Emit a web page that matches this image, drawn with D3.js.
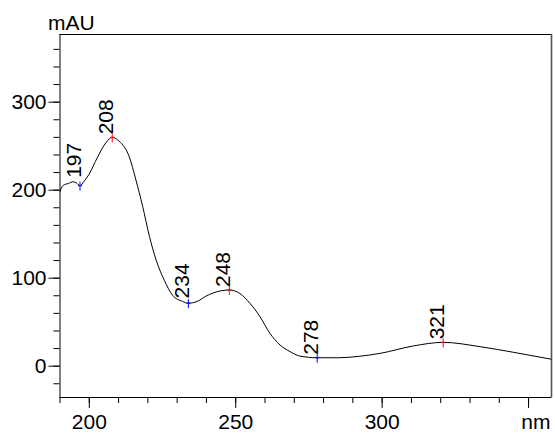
<!DOCTYPE html>
<html>
<head>
<meta charset="UTF-8">
<script src="https://d3js.org/d3.v7.min.js"></script>
<style>
  body { margin: 0; background: #fff; }
  svg { display: block; font-family: "Liberation Sans", Arial, sans-serif; }
</style>
</head>
<body>
<svg width="555" height="435"></svg>
<script>
// spectrum (nm, mAU)
const wavelengths = [190, 191.3, 193, 194.7, 195.8, 197, 198.5, 200, 203, 206, 208, 210.4, 213.8, 216.1, 218.4, 220.7, 223, 225.8, 228.6, 232, 234, 237, 240, 245, 248, 251.6, 255, 258.4, 261.8, 265.3, 268.7, 272, 278, 285, 292, 299.5, 310.8, 321, 333.6, 345, 358];
const absorbance  = [197, 205, 207, 209, 207.5, 204.5, 210, 217, 237, 254, 259.5, 255, 237.5, 211, 181, 147, 120, 97, 80, 73, 71, 73, 79, 85, 86, 82, 71, 56, 37, 23.5, 16, 11, 9, 9, 10.5, 14, 22.4, 26.5, 21.6, 15.2, 7.3];

// labelled extrema
const peakNm   = [197, 208, 234, 248, 278, 321];
const peakMAU  = [204.5, 259.5, 71, 86, 9, 26.5];
const peakKind = ["min", "max", "min", "max", "min", "max"];

const xMajor = [200, 250, 300, 350];
const yMajor = [0, 100, 200, 300];

const svg = d3.select("svg");
const pL = 59.5, pR = 551.5, pT = 34, pB = 397;

const x = d3.scaleLinear().domain([190, 358]).range([pL, pR]);
const y = d3.scaleLinear().domain([-35.6, 376.9]).range([pB, pT]);

// frame
svg.append("line").attr("x1", pL).attr("x2", pR).attr("y1", pT + 0.5).attr("y2", pT + 0.5)
  .attr("stroke", "#000");
svg.append("line").attr("x1", pR).attr("x2", pR).attr("y1", pT).attr("y2", pB)
  .attr("stroke", "#555").attr("stroke-width", 1.6);

// minor ticks
svg.append("g").attr("transform", `translate(0,${pB})`)
  .call(d3.axisBottom(x).tickValues(d3.range(190, 351, 10)).tickSize(6).tickFormat(""))
  .call(g => g.select(".domain").remove());
svg.append("g").attr("transform", `translate(${pL},0)`)
  .call(d3.axisLeft(y).tickValues(d3.range(-20, 361, 20)).tickSize(6).tickFormat(""))
  .call(g => g.select(".domain").remove());

// major axes
const xAxis = svg.append("g").attr("transform", `translate(0,${pB})`)
  .call(d3.axisBottom(x).tickValues(xMajor).tickSize(11).tickPadding(6)
    .tickFormat(d => d === 350 ? "" : d));
xAxis.select(".domain").attr("d", `M${pL},0.5H${pR}`);

const yAxis = svg.append("g").attr("transform", `translate(${pL},0)`)
  .call(d3.axisLeft(y).tickValues(yMajor).tickSize(11).tickPadding(2));
yAxis.select(".domain").attr("d", `M0.5,${pT}V${pB}`);

svg.selectAll(".tick text").attr("font-size", 21).attr("font-family", "Liberation Sans, Arial, sans-serif")
  .attr("fill", "#000");
svg.selectAll(".tick line").attr("stroke", "#000");

svg.append("text").attr("x", pR - 1).attr("y", 429).attr("text-anchor", "end")
  .attr("font-size", 21).text("nm");
svg.append("text").attr("x", 48).attr("y", 30).attr("font-size", 21).text("mAU");

// spectrum
svg.append("clipPath").attr("id", "plot").append("rect")
  .attr("x", pL).attr("y", pT).attr("width", pR - pL).attr("height", pB - pT);

const pts = wavelengths.map((w, i) => [w, absorbance[i]]);
svg.append("path")
  .datum(pts)
  .attr("clip-path", "url(#plot)")
  .attr("fill", "none")
  .attr("stroke", "#000")
  .attr("stroke-width", 1)
  .attr("d", d3.line().x(d => x(d[0])).y(d => y(d[1])).curve(d3.curveMonotoneX));

// markers and labels
peakNm.forEach((nm, i) => {
  const px = x(nm), py = y(peakMAU[i]);
  const col = peakKind[i] === "max" ? "#ff0000" : "#0000ff";
  svg.append("line").attr("x1", px).attr("x2", px).attr("y1", py - 4).attr("y2", py + 5)
    .attr("stroke", col);
  svg.append("line").attr("x1", px - 2).attr("x2", px + 2).attr("y1", py).attr("y2", py)
    .attr("stroke", col);
  // keep label clear of the curve nearby
  const near = pts.filter(d => Math.abs(d[0] - nm) <= 2.5).map(d => d[1]);
  const ly = y(Math.max(peakMAU[i], d3.max(near))) - 3;
  svg.append("text")
    .attr("transform", `translate(${px + 1},${ly}) rotate(-90)`)
    .attr("font-size", 21)
    .text(nm);
});
</script>
</body>
</html>
